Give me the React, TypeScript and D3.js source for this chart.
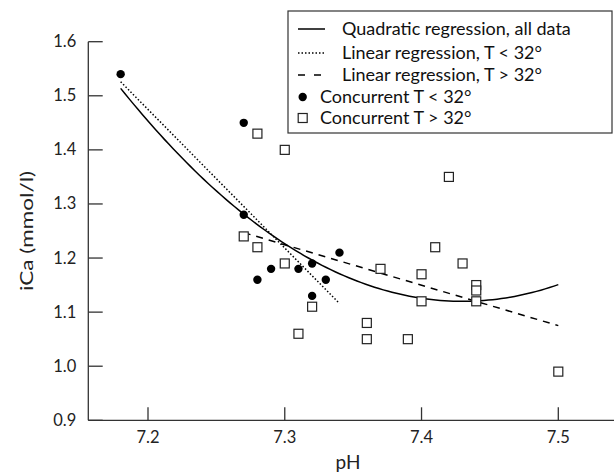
import React from "react";
import * as d3 from "d3";

// Data
const lowT_pH = [7.18, 7.27, 7.27, 7.28, 7.29, 7.31, 7.32, 7.33, 7.32, 7.34];
const lowT_iCa = [1.54, 1.45, 1.28, 1.16, 1.18, 1.18, 1.19, 1.16, 1.13, 1.21];

const highT_pH = [7.28, 7.3, 7.27, 7.28, 7.3, 7.32, 7.31, 7.37, 7.36, 7.36, 7.42, 7.41, 7.43, 7.4, 7.44, 7.44, 7.4, 7.44, 7.39, 7.5];
const highT_iCa = [1.43, 1.4, 1.24, 1.22, 1.19, 1.11, 1.06, 1.18, 1.08, 1.05, 1.35, 1.22, 1.19, 1.17, 1.15, 1.14, 1.12, 1.12, 1.05, 0.99];

// Regression curves
const quadVertexPH = 7.43;
const quadMinICa = 1.12;
const quadCurvature = 6.3;
const quadRange = [7.18, 7.5];

const linLowEnds = [[7.18, 1.526], [7.34, 1.116]];
const linHighEnds = [[7.27, 1.247], [7.5, 1.075]];

const xTicks = [7.2, 7.3, 7.4, 7.5];
const yTicks = [0.9, 1.0, 1.1, 1.2, 1.3, 1.4, 1.5, 1.6];

const legendLabels = [
  "Quadratic regression, all data",
  "Linear regression, T < 32°",
  "Linear regression, T > 32°",
  "Concurrent T < 32°",
  "Concurrent T > 32°",
];

const FONT = "Lato, 'DejaVu Sans', sans-serif";
const AX = "#333";

export default function App() {
  const x = d3.scaleLinear().domain([7.2, 7.5]).range([148, 558.3]);
  const y = d3.scaleLinear().domain([0.9, 1.6]).range([420.3, 41.7]);

  const quadPts: [number, number][] = d3
    .range(0, 101)
    .map((i) => {
      const px = quadRange[0] + ((quadRange[1] - quadRange[0]) * i) / 100;
      return [px, quadMinICa + quadCurvature * (px - quadVertexPH) ** 2];
    });
  const line = d3
    .line<number[]>()
    .x((d) => x(d[0]))
    .y((d) => y(d[1]));

  const x0 = 88.3;
  const yBottom = y(0.9);

  const legRowY = [29, 53, 75, 97, 118];

  return (
    <svg
      width={614}
      height={475}
      style={{ position: "absolute", left: 0, top: 0, background: "#fff" }}
    >
      <rect x={0} y={0} width={614} height={475} fill="#fff" />
      {/* axes */}
      <line x1={x0} y1={y(1.6)} x2={x0} y2={yBottom} stroke={AX} strokeWidth={1.3} />
      <line x1={x0} y1={yBottom} x2={614} y2={yBottom} stroke={AX} strokeWidth={1.3} />
      {yTicks.map((t) => (
        <g key={"y" + t}>
          <line x1={x0} x2={x0 + 14.4} y1={y(t)} y2={y(t)} stroke={AX} strokeWidth={1.3} />
          <text
            x={x0 - 12}
            y={y(t) + 5.5}
            textAnchor="end"
            fontFamily={FONT}
            fontSize={16.5}
            fill="#222"
          >
            {t.toFixed(1)}
          </text>
        </g>
      ))}
      {xTicks.map((t) => (
        <g key={"x" + t}>
          <line x1={x(t)} x2={x(t)} y1={yBottom} y2={yBottom - 13} stroke={AX} strokeWidth={1.3} />
          <text
            x={x(t)}
            y={yBottom + 23}
            textAnchor="middle"
            fontFamily={FONT}
            fontSize={16.5}
            fill="#222"
          >
            {t.toFixed(1)}
          </text>
        </g>
      ))}
      <text x={348} y={469} textAnchor="middle" fontFamily={FONT} fontSize={19} fill="#222">
        pH
      </text>
      <text
        transform={`translate(33,231) rotate(-90)`}
        textAnchor="middle"
        fontFamily={FONT}
        fontSize={18}
        textLength={120}
        lengthAdjust="spacingAndGlyphs"
        fill="#222"
      >
        iCa (mmol/l)
      </text>

      {/* regression lines */}
      <path d={line(quadPts) || ""} fill="none" stroke="#000" strokeWidth={1.5} />
      <path
        d={line(linLowEnds) || ""}
        fill="none"
        stroke="#000"
        strokeWidth={1.5}
        strokeDasharray="1.5,2"
      />
      <path
        d={line(linHighEnds) || ""}
        fill="none"
        stroke="#000"
        strokeWidth={1.5}
        strokeDasharray="7,6"
      />

      {/* points */}
      {highT_pH.map((p, i) => (
        <rect
          key={"h" + i}
          x={x(p) - 4.5}
          y={y(highT_iCa[i]) - 4.5}
          width={9}
          height={9}
          fill="#fff"
          stroke="#222"
          strokeWidth={1.2}
        />
      ))}
      {lowT_pH.map((p, i) => (
        <circle key={"l" + i} cx={x(p)} cy={y(lowT_iCa[i])} r={4.2} fill="#000" />
      ))}

      {/* legend */}
      <rect x={288} y={11} width={324} height={122} fill="#fff" stroke="#333" strokeWidth={1.2} />
      <line x1={298} x2={325} y1={legRowY[0]} y2={legRowY[0]} stroke="#000" strokeWidth={1.5} />
      <line
        x1={298}
        x2={325}
        y1={legRowY[1]}
        y2={legRowY[1]}
        stroke="#000"
        strokeWidth={1.5}
        strokeDasharray="1.5,2"
      />
      <line
        x1={298}
        x2={325}
        y1={legRowY[2]}
        y2={legRowY[2]}
        stroke="#000"
        strokeWidth={1.5}
        strokeDasharray="7,9"
      />
      <circle cx={302.7} cy={legRowY[3]} r={4.2} fill="#000" />
      <rect
        x={302.7 - 4.5}
        y={legRowY[4] - 4.5}
        width={9}
        height={9}
        fill="#fff"
        stroke="#222"
        strokeWidth={1.2}
      />
      {legendLabels.map((s, i) => (
        <text
          key={s}
          x={i < 3 ? 342 : 320}
          y={legRowY[i] + 6}
          fontFamily={FONT}
          fontSize={18}
          fill="#111"
        >
          {s}
        </text>
      ))}
    </svg>
  );
}
